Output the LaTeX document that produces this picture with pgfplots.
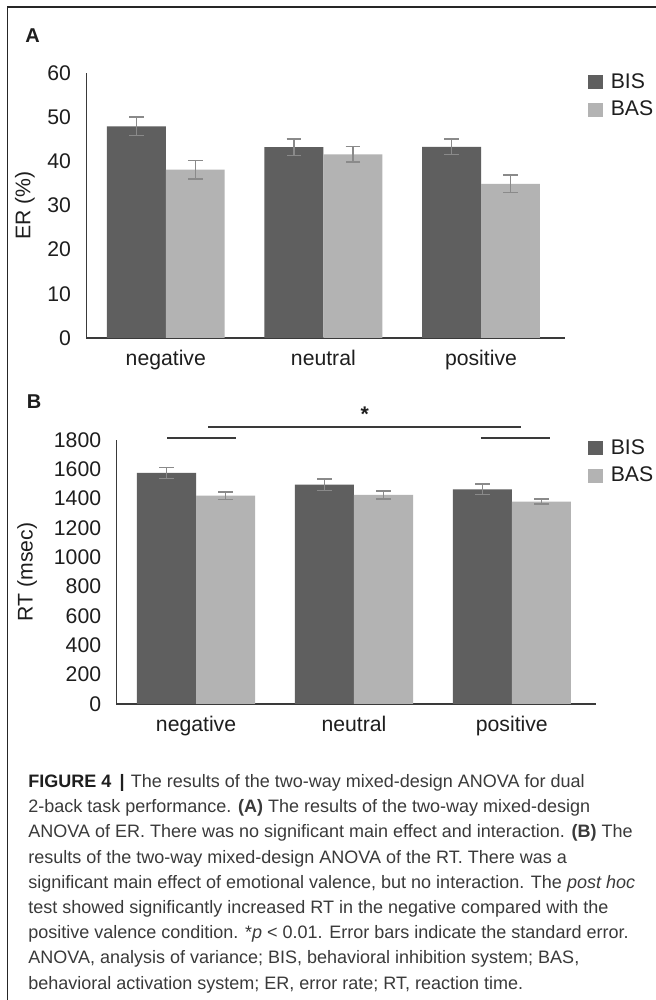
\documentclass[border=0pt]{standalone}
\usepackage{fontspec}
\setmainfont{Liberation Sans}
\usepackage{pgfplots}
\pgfplotsset{compat=1.18}
\definecolor{bisc}{HTML}{5F5F5F}
\definecolor{basc}{HTML}{B3B3B3}
\definecolor{errc}{HTML}{8A8A8A}
\definecolor{axc}{HTML}{3A3A3A}
\definecolor{txt}{HTML}{1E1E1E}
\definecolor{capc}{HTML}{3A3A3A}
\newcommand{\tickfont}{\fontsize{10.6pt}{12pt}\selectfont}
\newcommand{\capfont}{\fontsize{9pt}{10pt}\selectfont}
\pgfplotsset{
  panel/.style={
    scale only axis,
    axis x line=bottom, axis y line=left,
    axis line style={-, draw=axc, line width=0.6pt},
    xmin=-0.505, xmax=2.533,
    xtick={0,1,2}, xticklabels={negative,neutral,positive},
    major tick length=0pt,
    tick style={draw=none},
    ymin=0,
    /pgf/number format/assume math mode=true,
    /pgf/number format/1000 sep={},
    ticklabel style={font=\tickfont, text=txt},
    xticklabel style={anchor=base, inner sep=0pt, yshift=-14pt},
    yticklabel style={anchor=east, inner sep=0pt, xshift=-7.4pt},
    label style={font=\tickfont, text=txt},
    legend cell align=left,
    legend image code/.code={\fill[##1] (0pt,-3.5pt) rectangle (7.4pt,3.5pt); \path (11.2pt,0pt);},
    clip=false,
  },
  bisbar/.style={ybar, bar width=0.374, bar shift=0pt, fill=bisc, draw=none,
    error bars/.cd, y dir=both, y explicit,
    error bar style={errc, line width=0.75pt},
    error mark options={errc, rotate=90, mark size=3.65pt, line width=0.75pt}},
  basbar/.style={ybar, bar width=0.374, bar shift=0pt, fill=basc, draw=none,
    error bars/.cd, y dir=both, y explicit,
    error bar style={errc, line width=0.75pt},
    error mark options={errc, rotate=90, mark size=3.65pt, line width=0.75pt}},
}
\begin{document}
\begin{tikzpicture}[x=0.5pt,y=0.5pt]
\useasboundingbox (0,0) rectangle (656,1000);
\fill[white] (0,0) rectangle (656,1000);
\draw[line width=0.7pt, color=black!85] (7.5,-1) -- (7.5,993) -- (657,993);

\node[anchor=base, inner sep=0pt, font=\fontsize{10pt}{12pt}\selectfont\bfseries, text=txt] at (32.7,957.3) {A};
\node[anchor=base, inner sep=0pt, font=\fontsize{10pt}{12pt}\selectfont\bfseries, text=txt] at (34,591.5) {B};

% Panel A
\begin{axis}[panel,
  at={(43.1pt,331pt)}, anchor=south west,
  width=239.4pt, height=132.5pt,
  ymax=60, ytick={0,10,...,60},
  ylabel={ER (\%)},
  ylabel style={at={(axis description cs:-0.128,0.5)}, anchor=center},
  legend style={at={(axis description cs:1.048,0.9996)}, anchor=north west,
    draw=none, fill=none, inner sep=0pt, row sep=4.9pt,
    font=\tickfont, text=txt, nodes={inner sep=0pt}},
]
\addplot[bisbar] coordinates {(-0.187,47.9) +- (0,2.1) (0.813,43.2) +- (0,1.9) (1.813,43.3) +- (0,1.7)};
\addplot[basbar] coordinates {(0.187,38.1) +- (0,2.05) (1.187,41.6) +- (0,1.8) (2.187,34.9) +- (0,1.95)};
\legend{BIS,BAS}
\end{axis}

% Panel B
\begin{axis}[panel,
  at={(58.15pt,148pt)}, anchor=south west,
  width=239.85pt, height=132pt,
  ymax=1800, ytick={0,200,...,1800},
  ylabel={RT (msec)},
  ylabel style={at={(axis description cs:-0.186,0.5)}, anchor=center},
  legend style={at={(axis description cs:0.9833,1.0034)}, anchor=north west,
    draw=none, fill=none, inner sep=0pt, row sep=4.9pt,
    font=\tickfont, text=txt, nodes={inner sep=0pt}},
]
\addplot[bisbar] coordinates {(-0.187,1575) +- (0,36) (0.813,1495) +- (0,38) (1.813,1464) +- (0,37)};
\addplot[basbar] coordinates {(0.187,1420) +- (0,27) (1.187,1425) +- (0,27) (2.187,1380) +- (0,17)};
\legend{BIS,BAS}
\addplot[draw=axc, line width=0.7pt, forget plot] coordinates {(-0.181,1814) (0.253,1814)};
\addplot[draw=axc, line width=0.7pt, forget plot] coordinates {(1.804,1814) (2.241,1814)};
\addplot[draw=axc, line width=0.7pt, forget plot] coordinates {(0.076,1889) (2.058,1889)};
\node[anchor=base, inner sep=0pt, font=\tickfont\bfseries, text=txt] at (axis cs:1.069,1929.5) {*};
\end{axis}

% Caption
\begin{scope}[every node/.style={anchor=base west, inner sep=0pt, font=\capfont, text=capc}]
\node at (28,212.5) {\textbf{\color{txt}FIGURE 4}\hspace{0.45em}{\bfseries\color{txt}|}\hspace{0.35em}The results of the two-way mixed-design ANOVA for dual};
\node at (28,187.3) {2-back task performance. \textbf{(A)} The results of the two-way mixed-design};
\node at (28,162.1) {ANOVA of ER. There was no significant main effect and interaction. \textbf{(B)} The};
\node at (28,136.9) {results of the two-way mixed-design ANOVA of the RT. There was a};
\node at (28,111.7) {significant main effect of emotional valence, but no interaction. The \textit{post hoc}};
\node at (28,86.5) {test showed significantly increased RT in the negative compared with the};
\node at (28,61.3) {positive valence condition. *\textit{p} < 0.01. Error bars indicate the standard error.};
\node at (28,36.1) {ANOVA, analysis of variance; BIS, behavioral inhibition system; BAS,};
\node at (28,10.9) {behavioral activation system; ER, error rate; RT, reaction time.};
\end{scope}
\end{tikzpicture}
\end{document}
